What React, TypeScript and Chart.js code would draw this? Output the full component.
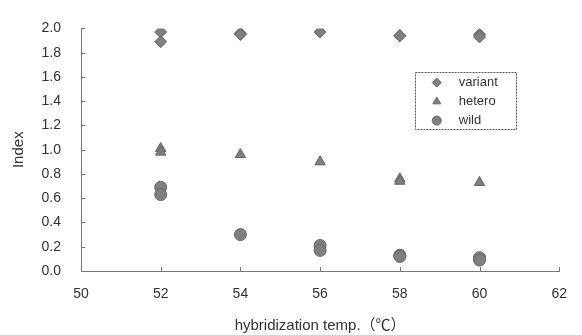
import React, { useEffect, useRef } from "react";
import { Chart, registerables } from "chart.js";
import { drawPoint } from "chart.js/helpers";

Chart.register(...registerables);

const seriesNames = ["variant", "hetero", "wild"];
const pointStyles = ["rectRot", "triangle", "circle"];

const variantX = [52, 52, 54, 54, 56, 58, 58, 60, 60];
const variantY = [1.97, 1.89, 1.96, 1.95, 1.97, 1.94, 1.94, 1.95, 1.93];
const heteroX = [52, 52, 54, 56, 58, 58, 60];
const heteroY = [1.01, 0.98, 0.96, 0.9, 0.76, 0.74, 0.73];
const wildX = [52, 52, 54, 56, 56, 58, 58, 60, 60];
const wildY = [0.69, 0.63, 0.3, 0.21, 0.17, 0.13, 0.12, 0.11, 0.09];

const xTicks = [50, 52, 54, 56, 58, 60, 62];
const yTicks = [0, 0.2, 0.4, 0.6, 0.8, 1.0, 1.2, 1.4, 1.6, 1.8, 2.0];

const FILL = "#7f7f7f";
const EDGE = "#666666";
const TEXT = "#333333";
const FONT = "'Liberation Sans', 'Noto Sans CJK JP', sans-serif";

const toPts = (xs: number[], ys: number[]) => xs.map((x, i) => ({ x, y: ys[i] }));

const innerTicks = {
  id: "innerTicks",
  afterDraw(chart: any) {
    const ctx = chart.ctx;
    const xs = chart.scales.x;
    const ys = chart.scales.y;
    const a = chart.chartArea;
    ctx.save();
    ctx.strokeStyle = "#777";
    ctx.lineWidth = 1;
    ctx.beginPath();
    xTicks.forEach((v) => {
      const px = Math.round(xs.getPixelForValue(v)) + 0.5;
      ctx.moveTo(px, a.bottom);
      ctx.lineTo(px, a.bottom - 4);
    });
    yTicks.forEach((v) => {
      const py = Math.round(ys.getPixelForValue(v)) + 0.5;
      ctx.moveTo(a.left, py);
      ctx.lineTo(a.left + 4, py);
    });
    ctx.stroke();
    ctx.restore();
  },
};

const boxLegend = {
  id: "boxLegend",
  afterDraw(chart: any) {
    const ctx = chart.ctx;
    const xs = chart.scales.x;
    const ys = chart.scales.y;
    const left = xs.getPixelForValue(58.375);
    const right = xs.getPixelForValue(60.9);
    const top = ys.getPixelForValue(1.64);
    const bottom = ys.getPixelForValue(1.17);
    ctx.save();
    ctx.strokeStyle = "#555";
    ctx.lineWidth = 1;
    ctx.setLineDash([2, 1]);
    ctx.strokeRect(Math.round(left) + 0.5, Math.round(top) + 0.5, Math.round(right - left), Math.round(bottom - top));
    ctx.setLineDash([]);
    const rowH = (bottom - top) / 3;
    seriesNames.forEach((name, i) => {
      const cy = top + rowH * (i + 0.5) + 1;
      ctx.fillStyle = FILL;
      ctx.strokeStyle = EDGE;
      ctx.lineWidth = 1;
      drawPoint(ctx, { pointStyle: pointStyles[i], radius: 4.5, borderWidth: 1, rotation: 0 } as any, left + 22, cy);
      ctx.fillStyle = TEXT;
      ctx.font = `13px ${FONT}`;
      ctx.textBaseline = "middle";
      ctx.textAlign = "left";
      ctx.fillText(name, left + 44, cy);
    });
    ctx.restore();
  },
};

export default function App() {
  const ref = useRef<HTMLCanvasElement | null>(null);
  useEffect(() => {
    if (!ref.current) return;
    const mk = (i: number, data: { x: number; y: number }[]) => ({
      label: seriesNames[i],
      data,
      pointStyle: pointStyles[i],
      pointRadius: 6,
      pointBackgroundColor: FILL,
      pointBorderColor: EDGE,
      pointBorderWidth: 1,
      showLine: false,
    });
    const chart = new Chart(ref.current, {
      type: "scatter",
      data: {
        datasets: [mk(0, toPts(variantX, variantY)), mk(1, toPts(heteroX, heteroY)), mk(2, toPts(wildX, wildY))],
      },
      options: {
        animation: false,
        responsive: false,
        maintainAspectRatio: false,
        layout: { padding: { top: 21, right: 21, left: 0, bottom: 0 } },
        plugins: { legend: { display: false }, tooltip: { enabled: false } },
        scales: {
          x: {
            type: "linear",
            min: 50,
            max: 62,
            afterBuildTicks: (s: any) => {
              s.ticks = xTicks.map((v) => ({ value: v }));
            },
            afterFit: (s: any) => {
              s.height = 64;
            },
            grid: { display: false, drawTicks: false },
            border: { display: true, color: "#777", width: 1 },
            ticks: { color: TEXT, font: { family: FONT, size: 14 }, padding: 15 },
            title: {
              display: true,
              text: "hybridization temp.（℃）",
              color: TEXT,
              font: { family: FONT, size: 15 },
              padding: { top: 10, bottom: 0 },
            },
          },
          y: {
            type: "linear",
            min: 0,
            max: 2,
            afterBuildTicks: (s: any) => {
              s.ticks = yTicks.map((v) => ({ value: v }));
            },
            afterFit: (s: any) => {
              s.width = 81;
            },
            grid: { display: false, drawTicks: false },
            border: { display: true, color: "#777", width: 1 },
            ticks: {
              color: TEXT,
              font: { family: FONT, size: 14 },
              padding: 20,
              callback: (v: any) => Number(v).toFixed(1),
            },
            title: {
              display: true,
              text: "Index",
              color: TEXT,
              font: { family: FONT, size: 15 },
              padding: { top: 10, bottom: 4 },
            },
          },
        },
      },
      plugins: [innerTicks, boxLegend],
    });
    return () => chart.destroy();
  }, []);
  return (
    <div style={{ position: "fixed", left: 0, top: 0, width: 582, height: 335, background: "#fff" }}>
      <canvas ref={ref} width={582} height={335} style={{ display: "block", width: 582, height: 335 }} />
    </div>
  );
}
